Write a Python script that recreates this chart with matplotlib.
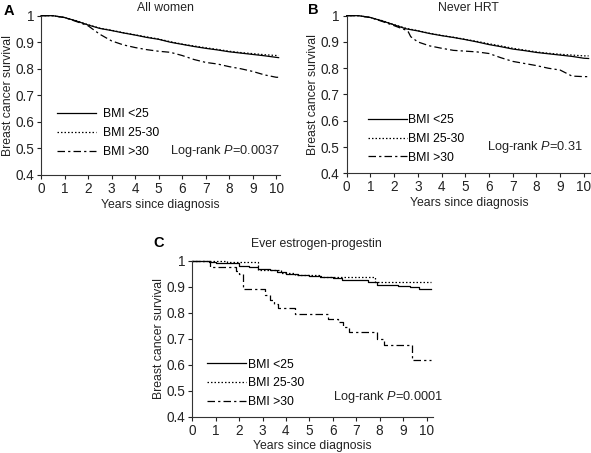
import matplotlib
matplotlib.use("Agg")
import matplotlib.pyplot as plt

plt.rcParams['font.family'] = ['Liberation Sans', 'DejaVu Sans']
plt.rcParams['mathtext.fontset'] = 'custom'
plt.rcParams['mathtext.it'] = 'Liberation Sans:italic'
plt.rcParams['mathtext.rm'] = 'Liberation Sans'
plt.rcParams['font.size'] = 8.8

labels = ['BMI <25', 'BMI 25-30', 'BMI >30']

# Panel A: all women
a_t = [0, 0.5, 1, 1.5, 2, 2.5, 3, 3.5, 4, 4.5, 5, 5.5, 6, 6.5, 7, 7.5, 8, 8.5, 9, 9.5, 10, 10.1]
a_low = [1, 1, 0.993, 0.98, 0.965, 0.952, 0.944, 0.935, 0.927, 0.918, 0.911, 0.9, 0.892,
         0.884, 0.877, 0.871, 0.864, 0.859, 0.854, 0.849, 0.843, 0.842]
a_mid = [1, 1, 0.993, 0.981, 0.966, 0.953, 0.945, 0.936, 0.928, 0.92, 0.912, 0.902, 0.893,
         0.886, 0.879, 0.873, 0.866, 0.861, 0.857, 0.853, 0.85, 0.85]
a_high = [1, 1, 0.993, 0.978, 0.962, 0.93, 0.905, 0.89, 0.88, 0.872, 0.866, 0.862, 0.85,
          0.835, 0.824, 0.818, 0.808, 0.8, 0.79, 0.777, 0.768, 0.768]

# Panel B: never HRT
b_t = [0, 0.5, 1, 1.5, 2, 2.5, 3, 3.5, 4, 4.5, 5, 5.5, 6, 6.5, 7, 7.5, 8, 8.5, 9, 9.5, 10, 10.2]
b_low = [1, 1, 0.993, 0.98, 0.965, 0.95, 0.942, 0.932, 0.924, 0.917, 0.909, 0.9, 0.89,
         0.882, 0.873, 0.867, 0.86, 0.855, 0.85, 0.845, 0.838, 0.837]
b_mid = [1, 1, 0.993, 0.981, 0.966, 0.952, 0.943, 0.933, 0.925, 0.918, 0.91, 0.902, 0.893,
         0.885, 0.876, 0.869, 0.862, 0.857, 0.853, 0.85, 0.847, 0.847]
b_high_t = [0, 0.5, 1, 1.5, 2, 2.5, 2.6, 2.7, 3, 3.5, 4, 4.5, 5, 5.5, 6, 6.5, 7, 7.5, 8,
            8.5, 9, 9.5, 10, 10.2]
b_high = [1, 1, 0.993, 0.978, 0.962, 0.945, 0.938, 0.92, 0.9, 0.885, 0.876, 0.868, 0.865,
          0.862, 0.856, 0.84, 0.826, 0.818, 0.81, 0.8, 0.793, 0.77, 0.768, 0.768]

# Panel C: ever estrogen-progestin (step curves)
c_low_t = [0, 0.7, 1.0, 1.6, 2.0, 2.4, 2.8, 3.3, 3.6, 4.0, 4.5, 5.0, 5.5, 6.0, 6.4, 7.5,
           7.9, 8.8, 9.3, 9.7, 10.2]
c_low = [1, 0.995, 0.993, 0.99, 0.98, 0.975, 0.97, 0.963, 0.957, 0.95, 0.946, 0.94, 0.938,
         0.935, 0.926, 0.92, 0.909, 0.905, 0.9, 0.89, 0.89]
c_mid_t = [0, 1.5, 2.8, 3.8, 4.4, 5.4, 7.8, 10.2]
c_mid = [1, 0.995, 0.965, 0.955, 0.945, 0.937, 0.92, 0.92]
c_high_t = [0, 0.75, 1.85, 2.0, 2.15, 3.1, 3.3, 3.5, 3.65, 4.4, 5.8, 6.2, 6.45, 6.7, 7.9,
            8.2, 9.4, 10.2]
c_high = [1, 0.978, 0.96, 0.95, 0.89, 0.87, 0.85, 0.835, 0.817, 0.796, 0.775, 0.765, 0.745,
          0.725, 0.70, 0.677, 0.62, 0.62]

styles = ['-', (0, (1.2, 1.6)), (0, (6, 2.5, 1.8, 2.5))]

panels = [
    dict(rect=[0.0694, 0.6137, 0.404, 0.3517], xmax=10.15, title='All women', tpos=(0.523, 1.05),
         series=[(a_t, a_low), (a_t, a_mid), (a_t, a_high)], step=False,
         leg=(0.067, 0.418), hpad=0.6, logrank=('Log-rank $P$=0.0037', 0.54, 0.151)),
    dict(rect=[0.5866, 0.6174, 0.4134, 0.348], xmax=10.3, title='Never HRT', tpos=(0.5, 1.05),
         series=[(b_t, b_low), (b_t, b_mid), (b_high_t, b_high)], step=False,
         leg=(0.088, 0.375), hpad=0.05, logrank=('Log-rank $P$=0.31', 0.576, 0.169)),
    dict(rect=[0.3254, 0.0801, 0.407, 0.344], xmax=10.27, title='Ever estrogen-progestin',
         tpos=(0.517, 1.11),
         series=[(c_low_t, c_low), (c_mid_t, c_mid), (c_high_t, c_high)], step=True,
         leg=(0.061, 0.372), hpad=0.15, logrank=('Log-rank $P$=0.0001', 0.583, 0.124)),
]

fig = plt.figure(figsize=(5.91, 4.53), dpi=100)

for p in panels:
    ax = fig.add_axes(p['rect'])
    for (t, v), ls, lab in zip(p['series'], styles, labels):
        ax.plot(t, v, color='black', linestyle=ls, linewidth=0.9, label=lab,
                drawstyle='steps-post' if p['step'] else 'default', clip_on=False)
    ax.set_xlim(0, p['xmax'])
    ax.set_ylim(0.4, 1.0)
    ax.set_xticks(range(0, 11))
    ax.set_yticks([0.4, 0.5, 0.6, 0.7, 0.8, 0.9, 1.0])
    ax.set_yticklabels(['0.4', '0.5', '0.6', '0.7', '0.8', '0.9', '1'])
    for s in ['top', 'right']:
        ax.spines[s].set_visible(False)
    for s in ['left', 'bottom']:
        ax.spines[s].set_linewidth(0.8)
        ax.spines[s].set_color('#333333')
    ax.tick_params(direction='out', length=3, width=0.8, pad=2, colors='#222222', labelsize=9.8)
    ax.set_xlabel('Years since diagnosis', labelpad=2, color='#222222')
    ax.set_ylabel('Breast cancer survival', labelpad=1, color='#222222')
    ax.text(p['tpos'][0], p['tpos'][1], p['title'], transform=ax.transAxes,
            ha='center', va='center', color='#222222')
    txt, lx, ly = p['logrank']
    ax.text(lx, ly, txt, transform=ax.transAxes, ha='left', va='center', color='#222222',
            fontsize=9.2)
    ax.legend(loc='upper left', bbox_to_anchor=p['leg'], frameon=False, borderpad=0,
              borderaxespad=0, handlelength=3.2, handletextpad=p['hpad'], labelspacing=0.55,
              fontsize=8.8)

fig.text(0.0144, 0.976, 'A', fontsize=10.5, fontweight='bold', ha='center', va='center')
fig.text(0.5296, 0.977, 'B', fontsize=10.5, fontweight='bold', ha='center', va='center')
fig.text(0.2685, 0.4636, 'C', fontsize=10.5, fontweight='bold', ha='center', va='center')

fig.savefig('out.png', dpi=100)
